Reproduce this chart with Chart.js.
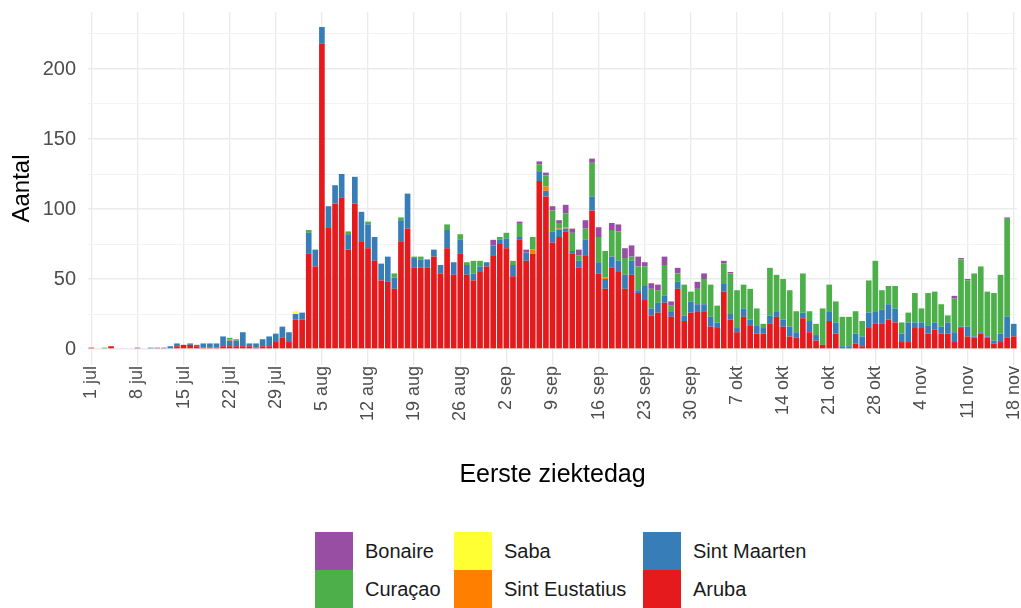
<!DOCTYPE html>
<html>
<head>
<meta charset="utf-8">
<script src="https://cdn.jsdelivr.net/npm/chart.js@4/dist/chart.umd.min.js"></script>
<style>
  html, body { margin: 0; padding: 0; background: #ffffff; }
  #wrap { position: relative; width: 1021px; height: 608px; font-family: "Liberation Sans", Arial, sans-serif; }
  #chartBox { position: absolute; left: 0; top: 0; width: 1021px; height: 500px; }
  .lg-box { position: absolute; width: 38px; height: 38px; }
  .lg-txt { position: absolute; font-size: 20px; color: #1a1a1a; line-height: 38px; height: 38px; white-space: nowrap; }
</style>
</head>
<body>
<div id="wrap">
  <div id="chartBox"><canvas id="c" width="1021" height="500"></canvas></div>
  <div id="legend"></div>
</div>
<script>
// ---- data ----
const months = ['jul', 'aug', 'sep', 'okt', 'nov'];
const monthDays = [31, 31, 30, 31, 18];
const tickLabels = ['1 jul','8 jul','15 jul','22 jul','29 jul','5 aug','12 aug','19 aug','26 aug','2 sep','9 sep','16 sep','23 sep','30 sep','7 okt','14 okt','21 okt','28 okt','4 nov','11 nov','18 nov'];

const aruba = [
  1,0,0,2,0,0,0,0,0,0,
  0,0,0,2,3,3,2,1,1,1,
  2,2,2,2,2,1,2,2,5,8,
  5,21,21,68,59,218,87,104,108,71,
  104,77,72,63,49,48,43,77,86,58,
  58,58,66,54,72,53,68,53,49,55,
  59,67,75,72,52,78,63,68,120,109,
  76,80,84,68,58,67,99,54,43,58,
  55,43,53,40,35,24,26,33,23,43,
  20,26,27,27,16,15,41,21,12,23,
  17,11,11,18,23,16,9,8,22,12,
  6,3,20,11,0,0,4,2,15,18,
  18,21,19,5,5,15,15,11,14,11,
  11,5,15,9,8,11,8,4,5,8,9
];
const sintMaarten = [
  0,0,0,0,0,0,0,0,0,1,
  0,0,2,2,0,1,1,3,3,3,
  7,4,4,10,2,3,5,7,6,8,
  7,4,5,15,12,12,15,13,17,11,
  19,21,17,17,12,18,8,15,25,7,
  6,6,5,6,13,9,10,7,5,4,
  3,7,3,7,8,2,6,0,7,4,
  8,5,2,2,5,11,10,8,7,8,
  8,10,10,2,10,5,7,5,4,5,
  4,8,5,5,7,4,6,4,3,6,
  4,6,4,6,4,5,7,4,4,8,
  4,0,7,8,2,2,7,7,11,9,
  10,11,10,6,14,4,4,6,5,5,
  8,7,1,7,1,1,1,2,6,15,9
];
const sintEustatius = [
  0,0,0,0,0,0,0,0,0,0,
  0,0,0,0,0,0,0,0,0,0,
  0,1,0,0,0,0,0,0,0,0,
  0,0,0,0,0,0,0,0,0,0,
  0,0,0,0,0,0,0,0,0,0,
  0,0,0,0,0,0,0,0,0,0,
  0,0,0,0,0,0,0,3,0,3,
  0,1,1,0,0,0,0,0,1,0,
  0,0,0,0,0,0,0,0,0,0,
  0,0,0,0,0,0,0,0,0,0,
  0,0,0,0,0,0,0,0,0,0,
  0,0,0,0,0,0,0,0,0,0,
  0,0,0,0,0,0,0,0,0,0,
  0,0,0,0,0,0,0,0,0,0,0
];
const saba = [
  0,0,0,0,0,0,0,0,0,0,
  0,0,0,0,0,0,0,0,0,0,
  0,0,0,0,0,0,0,0,0,0,
  0,2,0,0,0,0,0,0,0,0,
  0,0,0,0,0,0,0,0,0,0,
  0,0,0,0,0,0,0,0,0,0,
  0,0,0,0,0,0,0,0,0,0,
  0,0,0,0,0,0,0,0,0,0,
  0,0,0,0,0,0,0,0,0,0,
  0,0,0,0,0,0,0,0,0,0,
  0,0,0,0,0,0,0,0,0,0,
  0,0,0,0,0,0,0,0,0,0,
  0,0,0,0,0,0,0,0,0,0,
  0,0,0,0,0,0,0,0,0,0,0
];
const curacao = [
  0,0,1,0,0,0,0,0,0,0,
  0,0,0,0,0,0,0,0,0,0,
  0,1,1,0,0,0,0,0,0,0,
  0,0,0,2,0,0,0,0,0,2,
  0,0,2,0,0,0,3,2,0,1,
  2,0,0,0,4,0,4,2,9,4,
  0,0,2,4,3,10,0,9,5,8,
  15,4,10,13,4,8,24,18,19,19,
  21,12,3,17,14,14,9,22,4,6,
  22,7,11,18,23,12,14,29,27,17,
  22,12,3,34,26,29,26,15,28,7,
  8,26,19,15,21,21,16,11,23,36,
  14,13,16,8,7,21,10,23,22,16,
  5,24,48,33,45,47,32,34,42,70,0
];
const bonaire = [
  0,0,0,0,0,0,0,1,0,0,
  1,1,0,0,0,0,0,0,0,0,
  0,0,0,0,0,0,0,0,0,0,
  0,0,0,0,0,0,0,0,0,0,
  0,0,0,0,0,0,0,0,0,0,
  0,0,0,0,0,0,0,0,0,0,
  0,4,0,0,0,1,2,0,2,2,
  3,2,6,3,4,6,3,7,0,5,
  5,7,8,7,3,4,4,6,3,4,
  0,0,5,4,0,0,2,1,0,0,
  0,0,0,0,0,0,0,0,0,0,
  0,0,0,0,0,0,0,0,0,0,
  0,0,0,0,0,0,0,0,0,0,
  0,2,1,1,0,0,0,0,0,1,0
];
const yTicks = [0, 50, 100, 150, 200];

// ---- categories: one per day ----
const days = [];
months.forEach((m, k) => { for (let d = 1; d <= monthDays[k]; d++) days.push(d + ' ' + m); });

const seriesDefs = [
  { label: 'Aruba', data: aruba, color: '#E41A1C' },
  { label: 'Sint Maarten', data: sintMaarten, color: '#377EB8' },
  { label: 'Sint Eustatius', data: sintEustatius, color: '#FF7F00' },
  { label: 'Saba', data: saba, color: '#FFFF33' },
  { label: 'Curaçao', data: curacao, color: '#4DAF4A' },
  { label: 'Bonaire', data: bonaire, color: '#984EA3' }
];

const tickSet = new Set(tickLabels);

new Chart(document.getElementById('c'), {
  type: 'bar',
  data: {
    labels: days,
    datasets: seriesDefs.map(s => ({
      label: s.label, data: s.data, backgroundColor: s.color,
      borderWidth: 0, barPercentage: 0.86, categoryPercentage: 1
    }))
  },
  options: {
    responsive: false,
    animation: false,
    layout: { padding: { left: 0, right: 4, top: 12, bottom: 0 } },
    plugins: { legend: { display: false }, tooltip: { enabled: false } },
    scales: {
      x: {
        stacked: true,
        offset: true,
        border: { display: false },
        grid: {
          offset: false, drawTicks: false, lineWidth: 1.3,
          color: ctx => (ctx.tick && tickSet.has(days[ctx.index])) ? '#EBEBEB' : 'rgba(0,0,0,0)'
        },
        ticks: {
          autoSkip: false, minRotation: 90, maxRotation: 90, padding: 1,
          color: '#4D4D4D', font: { family: 'Liberation Sans', size: 18 },
          callback: function (v, i) { return tickSet.has(days[i]) ? days[i] : ''; }
        },
        title: {
          display: true, text: 'Eerste ziektedag', color: '#000000',
          font: { family: 'Liberation Sans', size: 25 }, padding: { top: 0, bottom: 10 }
        },
        afterFit: s => { s.height = 135; s.paddingLeft = 0; s.paddingRight = 0; }
      },
      y: {
        stacked: true,
        min: -11.4, max: 240.7,
        border: { display: false },
        afterBuildTicks: s => { s.ticks = [0,25,50,75,100,125,150,175,200,225].map(v => ({ value: v })); },
        grid: {
          drawTicks: false,
          color: ctx => (ctx.tick && yTicks.includes(ctx.tick.value)) ? '#EBEBEB' : '#F3F3F3',
          lineWidth: ctx => (ctx.tick && yTicks.includes(ctx.tick.value)) ? 1.4 : 1
        },
        ticks: {
          padding: 12, color: '#4D4D4D', font: { family: 'Liberation Sans', size: 20 },
          callback: v => yTicks.includes(v) ? String(v) : ''
        },
        title: {
          display: true, text: 'Aantal', color: '#000000',
          font: { family: 'Liberation Sans', size: 24 }, padding: { top: 8, bottom: 0 }
        },
        afterFit: s => { s.width = 88; s.paddingTop = 0; s.paddingBottom = 0; }
      }
    }
  }
});

// ---- legend (HTML text), laid out in columns as in the reference ----
const legendItems = [
  { label: 'Bonaire', color: '#984EA3', col: 0, row: 0 },
  { label: 'Curaçao', color: '#4DAF4A', col: 0, row: 1 },
  { label: 'Saba', color: '#FFFF33', col: 1, row: 0 },
  { label: 'Sint Eustatius', color: '#FF7F00', col: 1, row: 1 },
  { label: 'Sint Maarten', color: '#377EB8', col: 2, row: 0 },
  { label: 'Aruba', color: '#E41A1C', col: 2, row: 1 }
];
const colX = [315, 454, 643];
const rowY = [532, 570];
const lg = document.getElementById('legend');
legendItems.forEach(it => {
  const b = document.createElement('div');
  b.className = 'lg-box';
  b.style.left = colX[it.col] + 'px';
  b.style.top = rowY[it.row] + 'px';
  b.style.background = it.color;
  lg.appendChild(b);
  const t = document.createElement('div');
  t.className = 'lg-txt';
  t.style.left = (colX[it.col] + 50) + 'px';
  t.style.top = rowY[it.row] + 'px';
  t.textContent = it.label;
  lg.appendChild(t);
});
</script>
</body>
</html>
